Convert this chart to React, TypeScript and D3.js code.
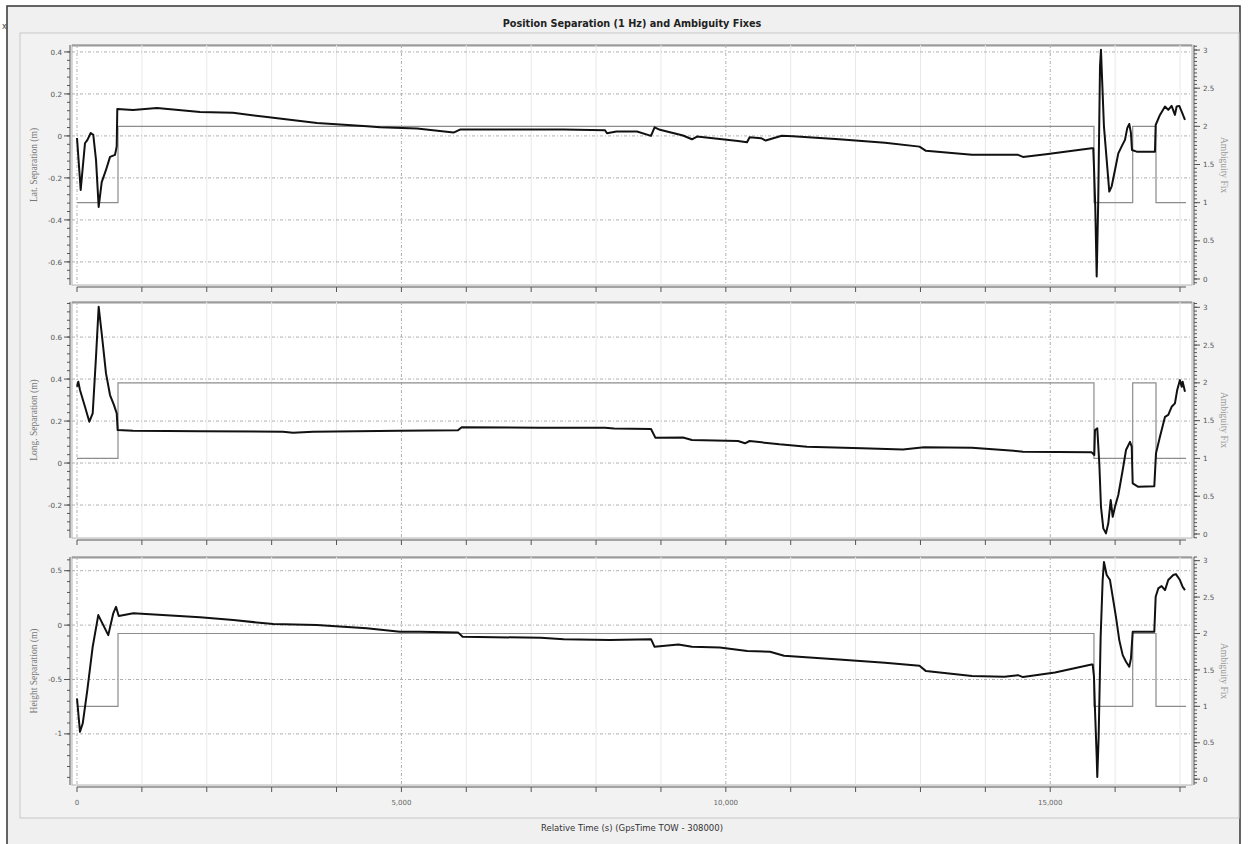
import React from 'react';
import * as d3 from 'd3';

// ambiguity fix status (same for the three panels)
const fixTime = [0, 632, 15674, 16271, 16630, 17093];
const fixValue = [1, 2, 1, 2, 1, 1];

// latitude separation (m)
const latTime = [0, 57, 123, 159, 211, 251, 293, 334, 381, 447, 509, 586, 612, 621, 863, 1233, 1896, 2404, 2928, 3699, 4470, 4670, 5240, 5803, 5903, 7501, 8138, 8168, 8315, 8631, 8847, 8902, 8985, 9340, 9478, 9556, 10188, 10327, 10366, 10542, 10614, 10861, 11035, 11744, 12453, 12985, 13085, 13794, 14503, 14580, 14935, 15637, 15663, 15674, 15694, 15716, 15740, 15767, 15782, 15798, 15828, 15870, 15910, 15947, 15998, 16049, 16101, 16152, 16187, 16218, 16244, 16260, 16332, 16614, 16625, 16691, 16769, 16819, 16871, 16922, 16948, 16989, 17026, 17077];
const latSep = [-0.01, -0.257, -0.035, -0.02, 0.014, 0.005, -0.114, -0.338, -0.22, -0.162, -0.1, -0.09, -0.05, 0.128, 0.124, 0.133, 0.114, 0.11, 0.09, 0.062, 0.046, 0.041, 0.035, 0.016, 0.03, 0.03, 0.027, 0.013, 0.021, 0.021, 0, 0.041, 0.029, 0.002, -0.016, -0.003, -0.024, -0.03, -0.006, -0.011, -0.022, 0.001, -0.001, -0.016, -0.032, -0.051, -0.071, -0.09, -0.09, -0.1, -0.087, -0.059, -0.059, -0.146, -0.337, -0.67, -0.305, 0.33, 0.41, 0.28, 0.044, -0.114, -0.265, -0.24, -0.162, -0.083, -0.05, -0.019, 0.037, 0.057, 0.013, -0.067, -0.075, -0.075, 0.052, 0.1, 0.14, 0.124, 0.143, 0.1, 0.14, 0.143, 0.116, 0.076];

// longitude separation (m)
const longTime = [0, 20, 46, 123, 190, 242, 293, 334, 381, 447, 509, 570, 612, 627, 863, 1896, 3175, 3329, 3637, 4978, 5872, 5929, 7147, 8138, 8277, 8847, 8916, 9340, 9478, 10188, 10296, 10366, 10827, 11251, 12099, 12730, 13054, 13794, 14435, 14580, 15639, 15679, 15690, 15725, 15756, 15782, 15818, 15859, 15895, 15932, 15963, 15998, 16049, 16117, 16168, 16229, 16256, 16271, 16357, 16604, 16630, 16691, 16769, 16819, 16871, 16922, 16957, 16999, 17026, 17041, 17077];
const longSep = [0.363, 0.387, 0.348, 0.268, 0.197, 0.237, 0.506, 0.744, 0.617, 0.427, 0.324, 0.276, 0.237, 0.157, 0.154, 0.152, 0.149, 0.144, 0.149, 0.154, 0.156, 0.171, 0.168, 0.168, 0.165, 0.162, 0.12, 0.122, 0.11, 0.105, 0.094, 0.105, 0.089, 0.078, 0.07, 0.065, 0.075, 0.073, 0.059, 0.054, 0.051, 0.038, 0.157, 0.165, 0, -0.208, -0.311, -0.335, -0.287, -0.176, -0.256, -0.208, -0.152, -0.033, 0.062, 0.101, 0.078, -0.097, -0.113, -0.11, 0.046, 0.125, 0.22, 0.229, 0.268, 0.284, 0.348, 0.395, 0.363, 0.387, 0.34];

// height separation (m)
const heightTime = [0, 46, 88, 159, 242, 328, 405, 482, 559, 601, 643, 868, 1896, 2409, 3025, 3694, 4465, 4978, 5286, 5872, 5943, 7147, 7501, 8209, 8847, 8902, 9269, 9478, 9907, 10331, 10681, 10897, 11744, 12453, 12985, 13085, 13794, 14293, 14503, 14580, 15073, 15637, 15654, 15674, 15690, 15716, 15725, 15746, 15777, 15808, 15828, 15870, 15921, 15963, 16013, 16064, 16117, 16168, 16218, 16244, 16271, 16332, 16604, 16625, 16665, 16717, 16769, 16819, 16896, 16937, 16999, 17041, 17077];
const heightSep = [-0.675, -0.981, -0.905, -0.598, -0.199, 0.092, 0, -0.092, 0.108, 0.168, 0.083, 0.108, 0.071, 0.046, 0.009, 0, -0.03, -0.061, -0.061, -0.067, -0.107, -0.117, -0.129, -0.138, -0.129, -0.2, -0.178, -0.2, -0.205, -0.239, -0.245, -0.282, -0.316, -0.347, -0.374, -0.423, -0.469, -0.475, -0.46, -0.478, -0.435, -0.362, -0.362, -0.475, -0.782, -1.21, -1.396, -1.028, -0.107, 0.414, 0.58, 0.46, 0.414, 0.26, 0.076, -0.138, -0.276, -0.337, -0.383, -0.307, -0.061, -0.061, -0.061, 0.26, 0.337, 0.359, 0.322, 0.414, 0.46, 0.469, 0.414, 0.352, 0.322];

// tick labels
const latTicks = [-0.6, -0.4, -0.2, 0, 0.2, 0.4];
const longTicks = [-0.2, 0, 0.2, 0.4, 0.6];
const heightTicks = [-1, -0.5, 0, 0.5];
const fixTicks = [0, 0.5, 1, 1.5, 2, 2.5, 3];
const timeLabels = [0, 5000, 10000, 15000];
const timeMax = 17000;

const W = 1249;
const H = 844;
const plotLeft = 72;
const plotRight = 1192;

const panels = [
  { label: 'Lat. Separation (m)', time: latTime, sep: latSep, ticks: latTicks, minor: 0.04, top: 45, bottom: 285, domain: [-0.71, 0.433], fixDomain: [-0.079, 3.066] },
  { label: 'Long. Separation (m)', time: longTime, sep: longSep, ticks: longTicks, minor: 0.04, top: 302, bottom: 538, domain: [-0.357, 0.767], fixDomain: [-0.053, 3.07] },
  { label: 'Height Separation (m)', time: heightTime, sep: heightSep, ticks: heightTicks, minor: 0.1, top: 557, bottom: 785, domain: [-1.47, 0.626], fixDomain: [-0.08, 3.05] }
];

const x = d3.scaleLinear().domain([0, timeMax]).range([77, 1180]);

function minorTicks (d0: number, d1: number, step: number) {
  const out: number[] = [];
  for (let i = Math.ceil(d0 / step - 1e-6); i <= Math.floor(d1 / step + 1e-6); i++) out.push(+(i * step).toFixed(4));
  return out;
}

const fmt = (v: number) => String(+v.toFixed(2));
const fmtTime = d3.format(',');
const tickFont = '"DejaVu Sans", Verdana, sans-serif';
const serifFont = '"Liberation Serif", "Times New Roman", serif';

function Panel ({ p, last }: { p: typeof panels[number], last: boolean }) {
  const y = d3.scaleLinear().domain(p.domain).range([p.bottom, p.top]);
  const yFix = d3.scaleLinear().domain(p.fixDomain).range([p.bottom, p.top]);
  const sepLine = d3.line<number>()
    .x((d, i) => x(p.time[i]))
    .y(d => y(d));
  const fixLine = d3.line<number>()
    .x((d, i) => x(fixTime[i]))
    .y(d => yFix(d))
    .curve(d3.curveStepAfter);
  const xAxisY = p.bottom + 2;
  const mid = (p.top + p.bottom) / 2;
  const xTicks = d3.range(0, timeMax + 1, 1000);
  return (
    <g>
      <rect x={plotLeft} y={p.top} width={plotRight - plotLeft} height={p.bottom - p.top} fill='#fff' stroke='#b4b4b4' strokeWidth={1} />
      <line x1={plotLeft} x2={plotRight} y1={p.top + 0.5} y2={p.top + 0.5} stroke='#9a9a9a' strokeWidth={2} />
      {/* grid */}
      {xTicks.map(t => (
        <line key={'vg' + t} x1={x(t)} x2={x(t)} y1={p.top} y2={p.bottom}
          stroke={t % 5000 === 0 ? '#b0b0b0' : '#e8e8e8'} strokeWidth={1}
          strokeDasharray={t % 5000 === 0 ? '3,2,1,2' : null} />
      ))}
      {p.ticks.map(v => (
        <line key={'hg' + v} x1={plotLeft} x2={plotRight} y1={y(v)} y2={y(v)} stroke='#b0b0b0' strokeWidth={1} strokeDasharray='3,2,1,2' />
      ))}
      {/* ambiguity fix */}
      <path d={fixLine(fixValue) || ''} fill='none' stroke='#8c8c8c' strokeWidth={1.2} />
      {/* separation */}
      <path d={sepLine(p.sep) || ''} fill='none' stroke='#111' strokeWidth={2} strokeLinejoin='round' />
      {/* left axis */}
      <line x1={70} x2={70} y1={p.top} y2={p.bottom} stroke='#555' />
      {minorTicks(p.domain[0], p.domain[1], p.minor).map(v => (
        <line key={'lm' + v} x1={67} x2={70} y1={y(v)} y2={y(v)} stroke='#555' />
      ))}
      {p.ticks.map(v => (
        <g key={'lt' + v}>
          <line x1={64} x2={70} y1={y(v)} y2={y(v)} stroke='#555' />
          <text x={62} y={y(v) + 2.6} textAnchor='end' fontSize={7.2} fill='#555' fontFamily={tickFont}>{fmt(v)}</text>
        </g>
      ))}
      <text transform={`translate(37,${mid}) rotate(-90)`} textAnchor='middle' fontSize={9.5} fill='#777' fontFamily={serifFont}>{p.label}</text>
      {/* right axis */}
      <line x1={1194} x2={1194} y1={p.top} y2={p.bottom} stroke='#555' />
      {minorTicks(p.fixDomain[0], p.fixDomain[1], 0.05).map(v => (
        <line key={'rm' + v} x1={1194} x2={1197} y1={yFix(v)} y2={yFix(v)} stroke='#555' />
      ))}
      {fixTicks.map(v => (
        <g key={'rt' + v}>
          <line x1={1194} x2={1200} y1={yFix(v)} y2={yFix(v)} stroke='#555' />
          <text x={1203} y={yFix(v) + 2.6} fontSize={7.2} fill='#555' fontFamily={tickFont}>{fmt(v)}</text>
        </g>
      ))}
      <text transform={`translate(1221,${mid}) rotate(90)`} textAnchor='middle' fontSize={9.5} fill='#999' fontFamily={serifFont}>Ambiguity Fix</text>
      {/* bottom axis */}
      <line x1={x(0)} x2={plotRight - 6} y1={xAxisY} y2={xAxisY} stroke='#555' />
      {xTicks.map(t => (
        <line key={'xt' + t} x1={x(t)} x2={x(t)} y1={xAxisY} y2={xAxisY + 5} stroke='#555' />
      ))}
      {last && timeLabels.map(t => (
        <text key={'xl' + t} x={x(t)} y={xAxisY + 18} textAnchor='middle' fontSize={7} fill='#666' fontFamily={tickFont}>{fmtTime(t)}</text>
      ))}
    </g>
  );
}

export default function App () {
  return (
    <svg width={W} height={H} style={{ position: 'absolute', left: 0, top: 0, background: '#fff' }}>
      <rect x={7} y={6} width={1233} height={H} fill='#f0f0f0' stroke='#333' strokeWidth={1.5} />
      <rect x={20} y={33} width={1219} height={785} fill='#f2f2f2' stroke='#c8c8c8' strokeWidth={1} />
      <text x={2} y={29} fontSize={8} fill='#444' fontFamily={tickFont}>x</text>
      <text x={632} y={27} textAnchor='middle' fontSize={9.7} fontWeight='bold' fill='#222' fontFamily={tickFont}>Position Separation (1 Hz) and Ambiguity Fixes</text>
      {panels.map((p, i) => <Panel key={p.label} p={p} last={i === panels.length - 1} />)}
      <text x={632} y={831} textAnchor='middle' fontSize={8.5} fill='#333' fontFamily={tickFont}>Relative Time (s) (GpsTime TOW - 308000)</text>
    </svg>
  );
}
